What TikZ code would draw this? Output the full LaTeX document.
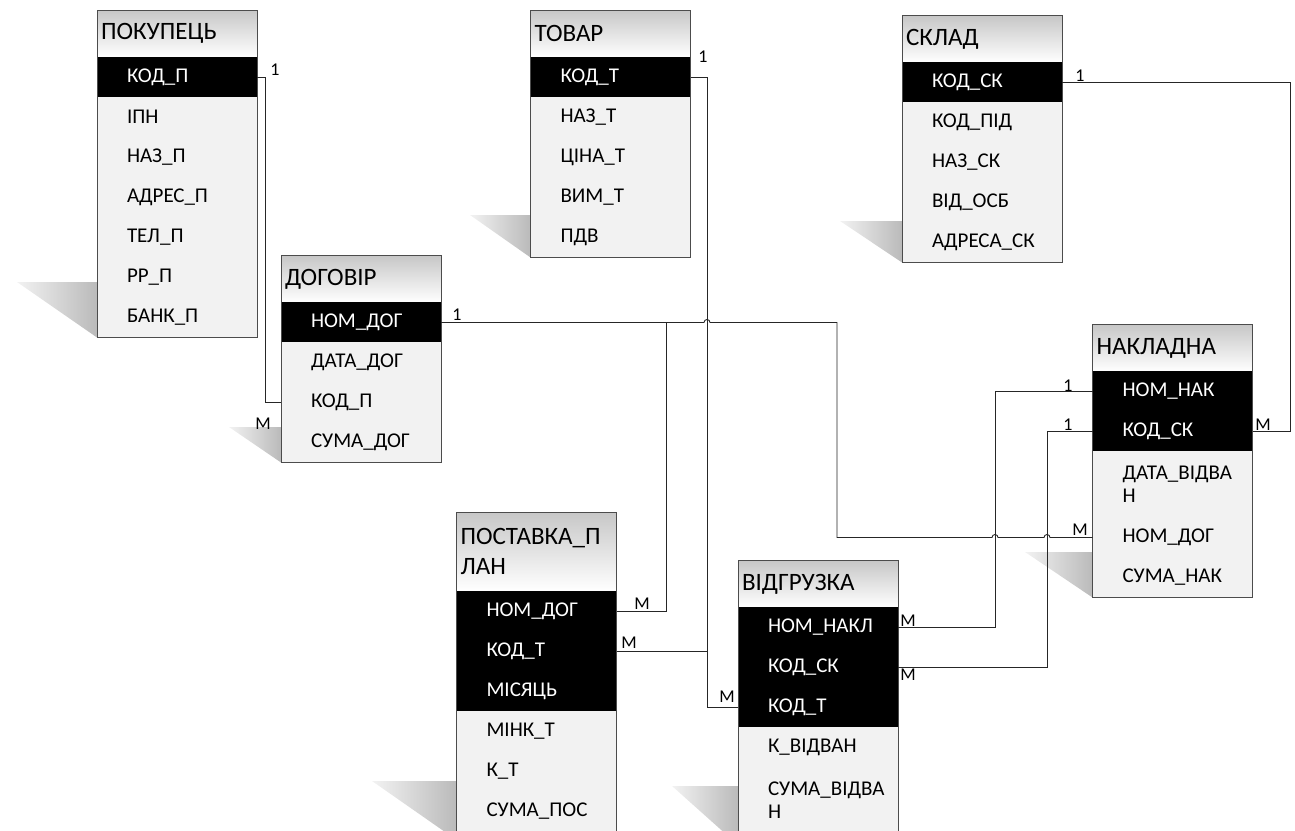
\documentclass[tikz,border=0pt]{standalone}
\usepackage{fontspec}
\setmainfont{Carlito}
\usetikzlibrary{positioning}

\begin{document}
\begin{tikzpicture}[x=1pt, y=-1pt,
  head/.style={minimum width=160pt, minimum height=47pt, text width=152pt, inner xsep=0pt, inner ysep=0pt, outer sep=0pt, align=left, top color=black!22, bottom color=white, font=\fontsize{25}{30}\selectfont},
  field/.style={minimum width=160pt, minimum height=40pt, text width=100pt, inner xsep=0pt, inner ysep=0pt, outer sep=0pt, align=left, fill=black!5, draw=black!5, line width=0.6pt, font=\fontsize{21}{23}\selectfont},
  key/.style={field, fill=black, draw=black, text=white},
  frame/.style={draw=black!70, line width=1pt},
  shadow/.style={left color=black!5, right color=black!27},
  link/.style={draw=black!85, line width=0.9pt},
  card/.style={font=\fontsize{18}{20}\selectfont, inner sep=0pt}
]

\path[use as bounding box, clip] (0,0) rectangle (1295,830) ;

% ПОКУПЕЦЬ
\node[head] (pok) at (177,33.5) {ПОКУПЕЦЬ} ;
\node[key, below=0pt of pok] (pok-kod) {КОД\_П} ;
\node[field, below=0pt of pok-kod] (pok-ipn) {ІПН} ;
\node[field, below=0pt of pok-ipn] (pok-naz) {НАЗ\_П} ;
\node[field, below=0pt of pok-naz] (pok-adr) {АДРЕС\_П} ;
\node[field, below=0pt of pok-adr] (pok-tel) {ТЕЛ\_П} ;
\node[field, below=0pt of pok-tel] (pok-rr) {РР\_П} ;
\node[field, below=0pt of pok-rr] (pok-bank) {БАНК\_П} ;
\shade[shadow] (17,282) -- (97,282) -- (97,337.5) -- cycle ;
\draw[frame] (pok.north west) rectangle (pok-bank.south east) ;

% ДОГОВІР
\node[head] (dog) at (361,279) {ДОГОВІР} ;
\node[key, below=0pt of dog] (dog-nom) {НОМ\_ДОГ} ;
\node[field, below=0pt of dog-nom] (dog-data) {ДАТА\_ДОГ} ;
\node[field, below=0pt of dog-data] (dog-kodp) {КОД\_П} ;
\node[field, below=0pt of dog-kodp] (dog-suma) {СУМА\_ДОГ} ;
\shade[shadow] (229,427) -- (281,427) -- (281,462.5) -- cycle ;
\draw[frame] (dog.north west) rectangle (dog-suma.south east) ;

% ТОВАР
\node[head] (tov) at (610.5,33.5) {ТОВАР} ;
\node[key, below=0pt of tov] (tov-kod) {КОД\_Т} ;
\node[field, below=0pt of tov-kod] (tov-naz) {НАЗ\_Т} ;
\node[field, below=0pt of tov-naz] (tov-cina) {ЦІНА\_Т} ;
\node[field, below=0pt of tov-cina] (tov-vim) {ВИМ\_Т} ;
\node[field, below=0pt of tov-vim] (tov-pdv) {ПДВ} ;
\shade[shadow] (470,215) -- (530.5,215) -- (530.5,257.5) -- cycle ;
\draw[frame] (tov.north west) rectangle (tov-pdv.south east) ;

% СКЛАД
\node[head] (skl) at (982,39) {СКЛАД} ;
\node[key, below=0pt of skl] (skl-kod) {КОД\_СК} ;
\node[field, below=0pt of skl-kod] (skl-pid) {КОД\_ПІД} ;
\node[field, below=0pt of skl-pid] (skl-naz) {НАЗ\_СК} ;
\node[field, below=0pt of skl-naz] (skl-osb) {ВІД\_ОСБ} ;
\node[field, below=0pt of skl-osb] (skl-adr) {АДРЕСА\_СК} ;
\shade[shadow] (840,221) -- (902,221) -- (902,262.5) -- cycle ;
\draw[frame] (skl.north west) rectangle (skl-adr.south east) ;

% НАКЛАДНА
\node[head] (nak) at (1172.5,348) {НАКЛАДНА} ;
\node[key, below=0pt of nak] (nak-nom) {НОМ\_НАК} ;
\node[key, below=0pt of nak-nom] (nak-kod) {КОД\_СК} ;
\node[field, minimum height=66pt, below=0pt of nak-kod] (nak-data) {ДАТА\_ВІДВА\\Н} ;
\node[field, below=0pt of nak-data] (nak-dog) {НОМ\_ДОГ} ;
\node[field, below=0pt of nak-dog] (nak-suma) {СУМА\_НАК} ;
\shade[shadow] (1025,552) -- (1092.5,552) -- (1092.5,597.5) -- cycle ;
\draw[frame] (nak.north west) rectangle (nak-suma.south east) ;

% ПОСТАВКА_ПЛАН
\node[head, minimum height=79pt] (pos) at (536.5,551.5) {ПОСТАВКА\_П\\ЛАН} ;
\node[key, below=0pt of pos] (pos-nom) {НОМ\_ДОГ} ;
\node[key, below=0pt of pos-nom] (pos-kod) {КОД\_Т} ;
\node[key, below=0pt of pos-kod] (pos-mis) {МІСЯЦЬ} ;
\node[field, below=0pt of pos-mis] (pos-mink) {МІНК\_Т} ;
\node[field, below=0pt of pos-mink] (pos-k) {К\_Т} ;
\node[field, below=0pt of pos-k] (pos-suma) {СУМА\_ПОС} ;
\shade[shadow] (372,781) -- (456.5,781) -- (456.5,840) -- cycle ;
\draw[frame] (pos.north west) rectangle (pos-suma.south east) ;

% ВІДГРУЗКА
\node[head] (vid) at (818,584) {ВІДГРУЗКА} ;
\node[key, below=0pt of vid] (vid-nom) {НОМ\_НАКЛ} ;
\node[key, below=0pt of vid-nom] (vid-ksk) {КОД\_СК} ;
\node[key, below=0pt of vid-ksk] (vid-kodt) {КОД\_Т} ;
\node[field, below=0pt of vid-kodt] (vid-k) {К\_ВІДВАН} ;
\node[field, minimum height=66pt, below=0pt of vid-k] (vid-suma) {СУМА\_ВІДВА\\Н} ;
\shade[shadow] (672,786) -- (738,786) -- (738,845) -- cycle ;
\draw[frame] (vid.north west) rectangle (vid-suma.south east) ;

% зв'язки
\draw[link] (pok-kod.east) -- ++(8,0) |- (dog-kodp.west) ;
\node[card] (pok-1) at (275,70) {1} ;
\node[card] (dog-m) at (263,424) {M} ;

\draw[link] (dog-nom.east) -- (704,322.5) arc (180:360:3) -- (837,322.5) -- (837,537.5)
  -- (992,537.5) arc (180:360:3) -- (1044,537.5) arc (180:360:3) -- (nak-dog.west) ;
\draw[link] (666,322.5) |- (pos-nom.east) ;
\node[card] (dog-1) at (457,315) {1} ;
\node[card] (pos-m1) at (642,604) {M} ;
\node[card] (nak-m1) at (1080,530) {M} ;

\draw[link] (tov-kod.east) -| (707,707.5) -- (vid-kodt.west) ;
\draw[link] (pos-kod.east) -- (707,651) ;
\node[card] (tov-1) at (703,57) {1} ;
\node[card] (pos-m2) at (629,643) {M} ;
\node[card] (vid-m1) at (727,697) {M} ;

\draw[link] (skl-kod.east) -| (1290,431.5) -- (nak-kod.east) ;
\node[card] (skl-1) at (1080,76) {1} ;
\node[card] (nak-m2) at (1263,425) {M} ;

\draw[link] (nak-nom.west) -| (995,627.5) -- (vid-nom.east) ;
\draw[link] (nak-kod.west) -| (1047,667.5) -- (vid-ksk.east) ;
\node[card] (nak-1a) at (1068,386) {1} ;
\node[card] (nak-1b) at (1068,425) {1} ;
\node[card] (vid-m2) at (908,621) {M} ;
\node[card] (vid-m3) at (908,675) {M} ;

\end{tikzpicture}
\end{document}
